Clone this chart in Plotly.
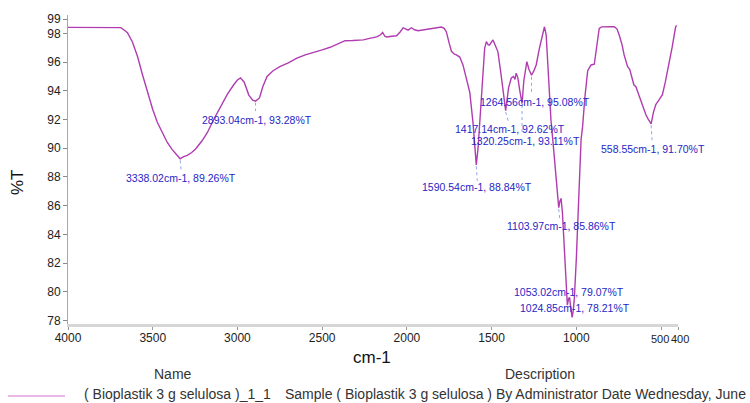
import plotly.graph_objects as go

# FTIR transmittance spectrum: wavenumber (cm-1) and %T
wavenumber = [
    4000, 3900, 3800, 3720, 3688, 3665, 3649, 3620, 3590, 3560,
    3531, 3500, 3473, 3440, 3414, 3385, 3355, 3338.02, 3320, 3296,
    3270, 3247, 3210, 3178, 3140, 3100, 3060, 3022, 3000, 2982,
    2960, 2933, 2910, 2893.04, 2870, 2850, 2825, 2790, 2747, 2700,
    2649, 2600, 2550, 2500, 2453, 2400, 2365, 2320, 2257, 2220,
    2178, 2155, 2143, 2130, 2119, 2090, 2061, 2040, 2022, 2005,
    1993, 1973, 1955, 1934, 1900, 1865, 1830, 1796, 1780, 1767,
    1750, 1737, 1720, 1708, 1688, 1669, 1650, 1629, 1610, 1598,
    1590.54, 1580, 1561, 1550, 1541, 1531, 1520, 1512, 1500, 1492,
    1480, 1463, 1445, 1430, 1417.14, 1400, 1384, 1371, 1362, 1355,
    1345, 1335, 1320.25, 1310, 1302, 1292, 1280, 1264.56, 1250, 1237,
    1218, 1200, 1188, 1178, 1165, 1150, 1139, 1125, 1112, 1103.97,
    1097, 1090, 1082, 1070, 1061, 1053.02, 1046, 1040, 1032, 1024.85,
    1018, 1012, 1000, 992, 980, 972, 963, 950, 933, 913,
    894, 880, 865, 850, 835, 800, 776, 760, 747, 730,
    718, 698, 685, 669, 660, 649, 635, 620, 605, 590,
    575, 558.55, 545, 531, 510, 492, 475, 453, 435, 414,
    408,
]
transmittance = [
    98.42, 98.42, 98.43, 98.42, 98.40, 98.20, 98.05, 97.40, 96.40, 95.10,
    93.85, 92.70, 91.80, 91.00, 90.40, 89.90, 89.45, 89.26, 89.40, 89.50,
    89.70, 89.95, 90.50, 91.08, 92.00, 92.90, 93.75, 94.42, 94.75, 94.90,
    94.60, 93.70, 93.35, 93.28, 93.50, 94.30, 95.00, 95.40, 95.70, 95.95,
    96.27, 96.50, 96.70, 96.85, 97.03, 97.30, 97.49, 97.50, 97.55, 97.65,
    97.76, 97.90, 98.07, 97.80, 97.75, 97.80, 97.83, 98.10, 98.39, 98.30,
    98.23, 98.39, 98.25, 98.18, 98.25, 98.30, 98.38, 98.44, 98.35, 98.10,
    97.30, 96.75, 96.55, 96.50, 96.35, 95.80, 94.90, 93.90, 91.80, 89.80,
    88.84, 90.00, 93.50, 95.50, 96.96, 97.42, 97.20, 97.19, 97.40, 97.54,
    97.20, 96.73, 95.20, 93.80, 92.62, 94.20, 94.89, 95.00, 94.80, 95.23,
    94.90, 94.10, 93.11, 94.70, 95.40, 96.03, 95.50, 95.08, 95.40, 95.80,
    96.96, 97.80, 98.46, 97.90, 95.00, 92.00, 90.60, 88.50, 86.60, 85.86,
    86.30, 86.50, 85.50, 82.50, 80.00, 79.07, 79.50, 79.60, 78.80, 78.21,
    78.70, 79.50, 82.30, 84.40, 88.00, 90.60, 91.50, 93.50, 95.40, 95.80,
    95.85, 97.00, 98.35, 98.45, 98.47, 98.47, 98.46, 98.30, 97.88, 97.20,
    96.50, 95.70, 95.50, 94.65, 94.40, 94.30, 93.80, 93.27, 92.80, 92.35,
    92.00, 91.70, 92.50, 93.04, 93.40, 93.73, 94.60, 95.80, 97.00, 98.46,
    98.55,
]

# Picked peaks (wavenumber, %T)
peak_wn = [3338.02, 2893.04, 1590.54, 1417.14, 1320.25, 1264.56,
           1103.97, 1053.02, 1024.85, 558.55]
peak_t = [89.26, 93.28, 88.84, 92.62, 93.11, 95.08,
          85.86, 79.07, 78.21, 91.70]

x_ticks = [4000, 3500, 3000, 2500, 2000, 1500, 1000, 500, 400]
x_tick_text = ["4000", "3500", "3000", "2500", "2000", "1500", "1000", "500", "400"]
y_ticks = [78, 80, 82, 84, 86, 88, 90, 92, 94, 96, 98, 99]
y_tick_text = ["78", "80", "82", "84", "86", "88", "90", "92", "94", "96", "98", "99"]

sample_name = "( Bioplastik 3 g selulosa )_1_1"
sample_desc = "Sample ( Bioplastik 3 g selulosa ) By Administrator Date Wednesday, June"

# Figure geometry
W, H = 750, 403
ML, MR, MT, MB = 68, 72, 15, 79
X_RANGE = [4000, 400]
Y_RANGE = [77.75, 99.28]
px_per_wn = (W - ML - MR) / (X_RANGE[0] - X_RANGE[1])
px_per_t = (H - MT - MB) / (Y_RANGE[1] - Y_RANGE[0])

# Label placement per peak: text centre offset (px right, px down) and leader end (px right, px down)
label_offsets = [(1, 19), (1, 19), (1, 22), (4, 18.5), (3.5, 37.5), (3, 26.5),
                 (3, 18), (2, -13), (3, -9.5), (2, 25)]
leader_ends = [(1, 12), (0, 10), (1, 16), (3, 12), (0, 30), (0, 18),
               (1, 11), None, None, (1, 18)]

# The two closest ticks at the right end: labels meet edge to edge between them
crowded_ticks = [500, 400]

CURVE = "#b03cb0"
LABEL = "#2626c4"
LEADER = "#8fa6ea"
FONT = "Liberation Sans, Arial, sans-serif"

fig = go.Figure()
fig.add_trace(go.Scatter(
    x=wavenumber, y=transmittance, mode="lines",
    line=dict(color=CURVE, width=1.4),
    name=sample_name, showlegend=False, hoverinfo="skip",
))

annotations = []
shapes = []
for wn, t, (dx, dy), lead in zip(peak_wn, peak_t, label_offsets, leader_ends):
    annotations.append(dict(
        x=wn, y=t, xref="x", yref="y",
        text=f"{wn:.2f}cm-1, {t:.2f}%T",
        showarrow=False, xanchor="center", yanchor="middle",
        xshift=dx, yshift=-dy,
        font=dict(family=FONT, size=10.5, color=LABEL),
    ))
    if lead is not None:
        lx, ly = lead
        shapes.append(dict(
            type="line", xref="x", yref="y",
            x0=wn, y0=t - 1.5 / px_per_t,
            x1=wn - lx / px_per_wn, y1=t - ly / px_per_t,
            line=dict(color=LEADER, width=1, dash="dot"),
        ))


def paper_x(px):
    return (px - ML) / (W - ML - MR)


def paper_y(py):
    return (H - MB - py) / (H - MT - MB)


# Right-end tick labels: the left one ends and the right one starts at the midpoint
tick_label_text = dict(zip(x_ticks, x_tick_text))
mid_gap = (crowded_ticks[0] - crowded_ticks[1]) / 2 * px_per_wn
annotations += [
    dict(x=crowded_ticks[0], y=paper_y(339), xref="x", yref="paper",
         text=tick_label_text[crowded_ticks[0]], showarrow=False,
         xanchor="right", yanchor="middle", xshift=mid_gap, borderpad=0,
         font=dict(family=FONT, size=11, color="#222222")),
    dict(x=crowded_ticks[1], y=paper_y(339), xref="x", yref="paper",
         text=tick_label_text[crowded_ticks[1]], showarrow=False,
         xanchor="left", yanchor="middle", xshift=-mid_gap, borderpad=0,
         font=dict(family=FONT, size=11, color="#222222")),
]
axis_tick_text = ["" if v in crowded_ticks else s for v, s in zip(x_ticks, x_tick_text)]

# Axis titles and the sample table under the plot
annotations += [
    dict(x=paper_x(372), y=paper_y(357), xref="paper", yref="paper", text="cm-1",
         showarrow=False, xanchor="center", yanchor="middle",
         font=dict(family=FONT, size=17, color="#111111")),
    dict(x=paper_x(17), y=paper_y(182), xref="paper", yref="paper", text="%T",
         showarrow=False, xanchor="center", yanchor="middle", textangle=-90,
         font=dict(family=FONT, size=17, color="#111111")),
    dict(x=paper_x(173), y=paper_y(374), xref="paper", yref="paper", text="Name",
         showarrow=False, xanchor="center", yanchor="middle",
         font=dict(family=FONT, size=14, color="#333333")),
    dict(x=paper_x(540), y=paper_y(374), xref="paper", yref="paper", text="Description",
         showarrow=False, xanchor="center", yanchor="middle",
         font=dict(family=FONT, size=14, color="#333333")),
    dict(x=paper_x(82), y=paper_y(394), xref="paper", yref="paper", text=sample_name,
         showarrow=False, xanchor="left", yanchor="middle",
         font=dict(family=FONT, size=14, color="#333333")),
    dict(x=paper_x(283), y=paper_y(394), xref="paper", yref="paper", text=sample_desc,
         showarrow=False, xanchor="left", yanchor="middle",
         font=dict(family=FONT, size=14, color="#333333")),
]
shapes.append(dict(
    type="line", xref="paper", yref="paper",
    x0=paper_x(8), x1=paper_x(65), y0=paper_y(396), y1=paper_y(396),
    line=dict(color="#e0a2e0", width=1.5),
))

fig.update_layout(
    width=W, height=H,
    margin=dict(l=ML, r=MR, t=MT, b=MB),
    paper_bgcolor="white", plot_bgcolor="white",
    font=dict(family=FONT, size=12, color="#222222"),
    annotations=annotations, shapes=shapes,
    showlegend=False,
)
fig.update_xaxes(
    range=X_RANGE, tickvals=x_ticks, ticktext=axis_tick_text, tickangle=0,
    showgrid=False, zeroline=False,
    showline=True, linecolor="#d6d6d6", linewidth=3,
    ticks="outside", ticklen=3, tickcolor="#999999",
    ticklabelstandoff=-2,
    tickfont=dict(family=FONT, size=12, color="#222222"),
)
fig.update_yaxes(
    range=Y_RANGE, tickvals=y_ticks, ticktext=y_tick_text,
    showgrid=False, zeroline=False,
    showline=True, linecolor="#a8a8a8", linewidth=1,
    ticks="outside", ticklen=4, tickcolor="#888888",
    tickfont=dict(family=FONT, size=12, color="#222222"),
)

fig.write_html("out.html")
